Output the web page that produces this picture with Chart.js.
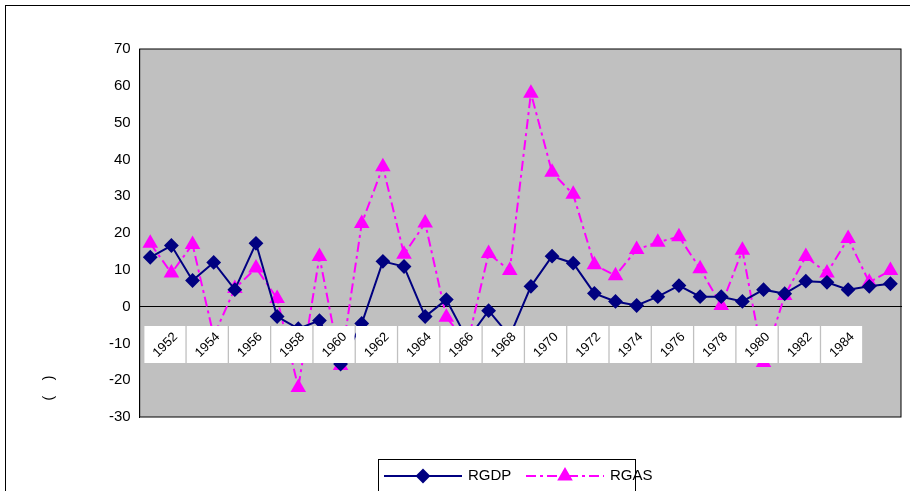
<!DOCTYPE html>
<html><head><meta charset="utf-8">
<script src="https://cdn.jsdelivr.net/npm/chart.js@4/dist/chart.umd.min.js"></script>
<style>
body{margin:0;background:#fff;}
#wrap{position:absolute;left:5px;top:5px;width:905px;height:490px;border:1px solid #000;border-bottom:none;border-right:none;box-sizing:border-box;}
</style></head><body>
<div id="wrap"><canvas id="myChart"></canvas></div>
<script>
var years = [];
for (var y = 1951; y <= 1986; y++) years.push(String(y));
var tickYears = ['1952', '1954', '1956', '1958', '1960', '1962', '1964', '1966', '1968',
                 '1970', '1972', '1974', '1976', '1978', '1980', '1982', '1984'];
var rgdp = [13.4, 16.6, 7.1, 12, 4.6, 17.2, -2.7, -6, -3.8, -15.6, -4.6, 12.3, 10.9, -2.7, 1.9, -9,
            -1.1, -8, 5.5, 13.7, 11.8, 3.6, 1.4, 0.3, 2.7, 5.7, 2.7, 2.7, 1.4, 4.6, 3.5, 6.9, 6.6, 4.6, 5.5, 6.2];
var rgas = [17.2, 9.1, 16.9, -8, 4.9, 10.5, 2.2, -22, 13.6, -16, 22.6, 38, 14.2, 22.7, -2.9, -10,
            14.4, 9.8, 58, 36.5, 30.5, 11.4, 8.4, 15.5, 17.5, 19, 10.3, 0.3, 15.3, -15.2, 3, 13.6, 9.1, 18.5, 6.6, 9.8];

function resetT(c) {
    c.ctx.setTransform(c.currentDevicePixelRatio, 0, 0, c.currentDevicePixelRatio, 0, 0);
}

var bgPlugin = {
    id: 'bg',
    beforeDraw: function (c) {
        var a = c.chartArea, ctx = c.ctx;
        ctx.save();
        ctx.fillStyle = '#c0c0c0';
        ctx.fillRect(a.left, a.top, a.right - a.left, a.bottom - a.top);
        ctx.strokeStyle = '#000';
        ctx.lineWidth = 1;
        ctx.strokeRect(a.left, a.top, a.right - a.left, a.bottom - a.top);
        ctx.restore();
    },
    afterDatasetsDraw: function (c) {
        // year labels in white boxes, drawn over the lines
        var ctx = c.ctx, xs = c.scales.x;
        ctx.save();
        tickYears.forEach(function (t) {
            var x = xs.getPixelForValue(years.indexOf(t)) - 6;
            ctx.fillStyle = '#fff';
            ctx.fillRect(x - 21, 320, 41, 37);
            ctx.translate(x, 339);
            ctx.rotate(-Math.PI / 4);
            ctx.fillStyle = '#000';
            ctx.font = '13px "Liberation Sans"';
            ctx.textAlign = 'center';
            ctx.textBaseline = 'middle';
            ctx.fillText(t, 0, 0);
            resetT(c);
        });
        ctx.restore();
    },
    afterDraw: function (c) {
        var ctx = c.ctx;
        ctx.save();
        // y title
        ctx.font = '14px "Liberation Sans"';
        ctx.fillStyle = '#000';
        ctx.translate(47, 382);
        ctx.rotate(-Math.PI / 2);
        ctx.textAlign = 'center';
        ctx.fillText('(    )', 0, 0);
        resetT(c);
        // legend
        var lx = 372, ly = 453;
        ctx.strokeStyle = '#000';
        ctx.lineWidth = 1;
        ctx.strokeRect(lx + 0.5, ly + 0.5, 257, 40);
        ctx.font = '15px "Liberation Sans"';
        ctx.textAlign = 'left';
        ctx.textBaseline = 'middle';
        c.data.datasets.forEach(function (d, i) {
            var x0 = lx + 6 + i * 142, yy = ly + 17;
            ctx.strokeStyle = d.borderColor;
            ctx.lineWidth = 2;
            ctx.setLineDash(d.borderDash || []);
            ctx.beginPath(); ctx.moveTo(x0, yy); ctx.lineTo(x0 + 78, yy); ctx.stroke();
            ctx.setLineDash([]);
            ctx.fillStyle = d.backgroundColor;
            ctx.strokeStyle = d.borderColor;
            Chart.helpers.drawPoint(ctx, {pointStyle: d.pointStyle, radius: d.pointRadius, borderWidth: 1}, x0 + 39, yy);
            ctx.fillStyle = '#000';
            ctx.fillText(d.label, x0 + 84, yy);
        });
        ctx.restore();
    }
};

var ctx = document.getElementById('myChart').getContext('2d');
var chart = new Chart(ctx, {
    type: 'line',
    data: {
        labels: years,
        datasets: [{
            label: 'RGDP',
            data: rgdp,
            borderColor: '#000080',
            backgroundColor: '#000080',
            borderWidth: 2,
            pointStyle: 'rectRot',
            pointRadius: 6,
            tension: 0
        }, {
            label: 'RGAS',
            data: rgas,
            borderColor: '#ff00ff',
            backgroundColor: '#ff00ff',
            borderWidth: 2,
            borderDash: [10, 4, 3, 4],
            pointStyle: 'triangle',
            pointRadius: 7,
            tension: 0
        }]
    },
    options: {
        responsive: true,
        maintainAspectRatio: false,
        animation: false,
        layout: {padding: {left: 100, right: 0, top: 43, bottom: 78}},
        plugins: {
            tooltip: {enabled: false},
            legend: {display: false}
        },
        scales: {
            x: {
                position: {y: 0},
                grid: {display: false, drawTicks: true, tickLength: 6, color: '#000'},
                border: {color: '#000'},
                offset: true,
                ticks: {display: false}
            },
            y: {
                min: -30, max: 70,
                grid: {display: false, drawTicks: true, tickLength: 6, color: '#000'},
                border: {color: '#000'},
                ticks: {stepSize: 10, color: '#000', font: {family: 'Liberation Sans', size: 15}}
            }
        }
    },
    plugins: [bgPlugin]
});
</script>
</body></html>
